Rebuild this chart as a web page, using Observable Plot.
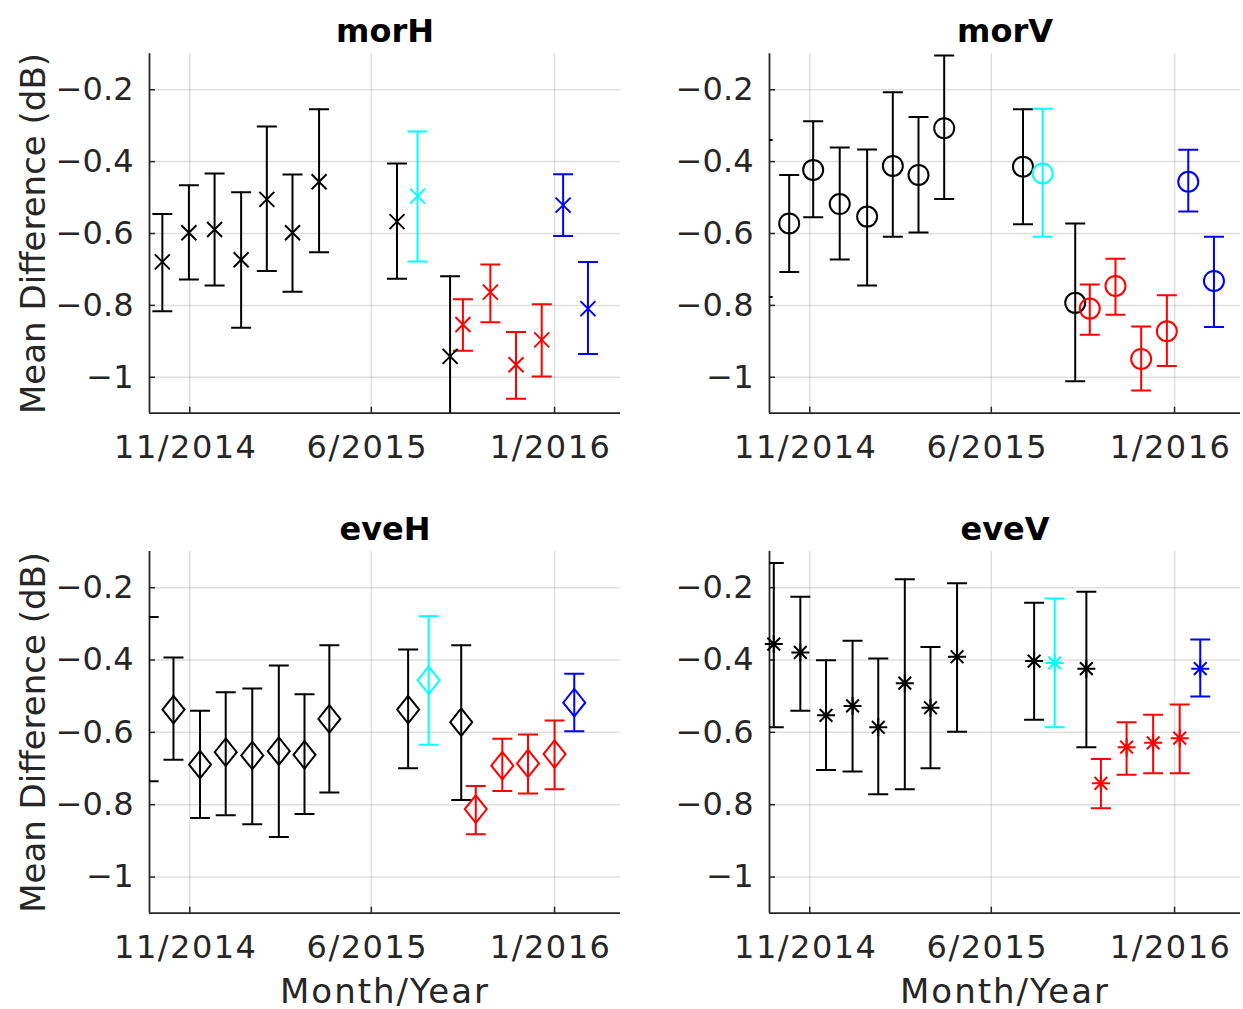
<!DOCTYPE html>
<html>
<head>
<meta charset="utf-8">
<script src="https://cdn.jsdelivr.net/npm/d3@7"></script>
<script src="https://cdn.jsdelivr.net/npm/@observablehq/plot@0.6"></script>
<style>
  html, body { margin: 0; padding: 0; background: #fff; }
  #root { position: relative; width: 1243px; height: 1009px; background: #fff; overflow: hidden; }
  #root svg { position: absolute; }
</style>
</head>
<body>
<div id="root"></div>
<script>
// ---------- shared axis data ----------
const X_DOMAIN = ["2014-09-15", "2016-03-18"];
const X_TICKS = ["2014-11-01", "2015-06-01", "2016-01-01"];
const Y_DOMAIN = [-1.1, -0.1];
const Y_TICKS = [-1, -0.8, -0.6, -0.4, -0.2];
const Y_LABEL = "Mean Difference (dB)";
const X_LABEL = "Month/Year";
const GROUP_NAMES = ["S1", "S2", "S3", "S4"];

// ---------- morH ----------
const morH_title = "morH";
const morH_dates = ["2014-09-30","2014-10-31","2014-11-30","2014-12-31","2015-01-30","2015-03-01","2015-04-01","2015-07-01","2015-07-25","2015-09-01","2015-09-16","2015-10-18","2015-11-17","2015-12-17","2016-01-11","2016-02-09"];
const morH_mean = [-0.679,-0.598,-0.589,-0.673,-0.505,-0.598,-0.456,-0.567,-0.496,-0.942,-0.853,-0.763,-0.965,-0.896,-0.521,-0.809];
const morH_lo   = [-0.816,-0.728,-0.745,-0.862,-0.704,-0.762,-0.652,-0.726,-0.678,-1.165,-0.926,-0.847,-1.060,-0.998,-0.607,-0.935];
const morH_hi   = [-0.546,-0.466,-0.433,-0.485,-0.302,-0.436,-0.254,-0.405,-0.316,-0.719,-0.783,-0.686,-0.874,-0.797,-0.435,-0.679];
const morH_group = ["S1","S1","S1","S1","S1","S1","S1","S1","S2","S1","S3","S3","S3","S3","S4","S4"];

// ---------- morV ----------
const morV_title = "morV";
const morV_dates = ["2014-09-07","2014-10-08","2014-11-05","2014-12-06","2015-01-07","2015-02-06","2015-03-08","2015-04-07","2015-07-08","2015-07-31","2015-09-07","2015-09-24","2015-10-24","2015-11-23","2015-12-23","2016-01-17","2016-02-16"];
const morV_mean = [-0.558,-0.572,-0.423,-0.518,-0.553,-0.412,-0.437,-0.307,-0.414,-0.433,-0.793,-0.809,-0.746,-0.949,-0.872,-0.456,-0.732];
const morV_lo   = [-0.777,-0.707,-0.555,-0.672,-0.745,-0.609,-0.597,-0.504,-0.574,-0.609,-1.011,-0.882,-0.826,-1.037,-0.969,-0.539,-0.860];
const morV_hi   = [-0.340,-0.437,-0.288,-0.361,-0.366,-0.207,-0.276,-0.105,-0.254,-0.253,-0.572,-0.742,-0.670,-0.859,-0.772,-0.367,-0.609];
const morV_group = ["S1","S1","S1","S1","S1","S1","S1","S1","S1","S2","S1","S3","S3","S3","S3","S4","S4"];

// ---------- eveH ----------
const eveH_title = "eveH";
const eveH_dates = ["2014-09-14","2014-10-13","2014-11-13","2014-12-13","2015-01-13","2015-02-13","2015-03-15","2015-04-13","2015-07-14","2015-08-07","2015-09-14","2015-10-01","2015-11-01","2015-12-01","2016-01-01","2016-01-24"];
const eveH_mean = [-0.507,-0.537,-0.689,-0.655,-0.664,-0.652,-0.662,-0.563,-0.537,-0.456,-0.572,-0.812,-0.692,-0.686,-0.660,-0.518];
const eveH_lo   = [-0.735,-0.676,-0.837,-0.829,-0.854,-0.889,-0.826,-0.766,-0.699,-0.634,-0.787,-0.882,-0.762,-0.769,-0.757,-0.597];
const eveH_hi   = [-0.281,-0.393,-0.540,-0.489,-0.479,-0.415,-0.495,-0.359,-0.371,-0.279,-0.359,-0.748,-0.618,-0.606,-0.567,-0.438];
const eveH_group = ["S1","S1","S1","S1","S1","S1","S1","S1","S1","S2","S1","S3","S3","S3","S3","S4"];

// ---------- eveV ----------
const eveV_title = "eveV";
const eveV_dates = ["2014-09-20","2014-10-21","2014-11-20","2014-12-21","2015-01-20","2015-02-20","2015-03-22","2015-04-22","2015-07-21","2015-08-14","2015-09-20","2015-10-07","2015-11-06","2015-12-07","2016-01-07","2016-01-31"];
const eveV_mean = [-0.356,-0.379,-0.553,-0.527,-0.586,-0.464,-0.532,-0.391,-0.403,-0.408,-0.424,-0.741,-0.641,-0.629,-0.616,-0.424];
const eveV_lo   = [-0.586,-0.540,-0.704,-0.708,-0.771,-0.757,-0.699,-0.598,-0.565,-0.586,-0.641,-0.810,-0.717,-0.713,-0.713,-0.501];
const eveV_hi   = [-0.132,-0.225,-0.401,-0.347,-0.396,-0.177,-0.364,-0.188,-0.242,-0.230,-0.211,-0.674,-0.572,-0.551,-0.523,-0.343];
const eveV_group = ["S1","S1","S1","S1","S1","S1","S1","S1","S1","S2","S1","S3","S3","S3","S3","S4"];

// ---------- styling ----------
const GROUP_COLORS = ["#000000", "#00ffff", "#ff0000", "#0000ff"];
const INK = "#262626";
const FONT = "DejaVu Sans";

const rOf = size => Math.sqrt(size / Math.PI);
const capSymbol = {draw(ctx, size) { const r = rOf(size); ctx.moveTo(-r, 0); ctx.lineTo(r, 0); }};
const timesSymbol = {draw(ctx, size) { const r = rOf(size); ctx.moveTo(-r, -r); ctx.lineTo(r, r); ctx.moveTo(-r, r); ctx.lineTo(r, -r); }};
const diamondSymbol = {draw(ctx, size) { const r = rOf(size), h = r * 1.25; ctx.moveTo(0, -h); ctx.lineTo(r, 0); ctx.lineTo(0, h); ctx.lineTo(-r, 0); ctx.closePath(); }};
const asteriskSymbol = {draw(ctx, size) { const r = rOf(size), d = r * Math.SQRT1_2;
  ctx.moveTo(-r, 0); ctx.lineTo(r, 0); ctx.moveTo(0, -r); ctx.lineTo(0, r);
  ctx.moveTo(-d, -d); ctx.lineTo(d, d); ctx.moveTo(-d, d); ctx.lineTo(d, -d); }};

const parse = d3.utcParse("%Y-%m-%d");
const fmtMonth = d3.utcFormat("%-m/%Y");
const fmtY = d3.format("~g");

function panel(cfg, box) {
  const rows = cfg.dates.map((d, i) => ({date: parse(d), mean: cfg.mean[i], lo: cfg.lo[i], hi: cfg.hi[i], group: cfg.group[i]}));
  const xDom = X_DOMAIN.map(parse);
  const xTicks = X_TICKS.map(parse);
  const marks = [
    Plot.gridX(xTicks, {stroke: INK, strokeOpacity: 0.15, strokeWidth: 1.5}),
    Plot.gridY(Y_TICKS, {stroke: INK, strokeOpacity: 0.15, strokeWidth: 1.5}),
    Plot.ruleX([xDom[0]], {stroke: INK, strokeWidth: 1.8}),
    Plot.ruleY([Y_DOMAIN[0]], {stroke: INK, strokeWidth: 1.8}),
    Plot.axisY(Y_TICKS, {tickSize: -6, tickPadding: 22, tickFormat: fmtY, fontSize: 32, color: INK, strokeWidth: 1.5, label: null}),
    Plot.axisX(xTicks, {tickSize: -6, tickPadding: 28, tickFormat: () => "", fontSize: 32, color: INK, strokeWidth: 1.5, label: null}),
    Plot.text(xTicks, {x: d => d, text: fmtMonth, frameAnchor: "bottom", dy: 22, dx: -4, lineAnchor: "top", textAnchor: "middle", fontSize: 32, fill: INK}),
    Plot.ruleX(rows, {x: "date", y1: "lo", y2: "hi", stroke: "group", strokeWidth: 2, clip: true}),
    Plot.dot(rows, {x: "date", y: "lo", symbol: capSymbol, r: 10, stroke: "group", strokeWidth: 2, fill: "none", clip: true}),
    Plot.dot(rows, {x: "date", y: "hi", symbol: capSymbol, r: 10, stroke: "group", strokeWidth: 2, fill: "none", clip: true}),
    Plot.dot(rows, {filter: d => d.date >= xDom[0], x: "date", y: "mean", symbol: cfg.symbol, r: cfg.r, stroke: "group", strokeWidth: 2, fill: "none"}),
    Plot.text([cfg.title], {frameAnchor: "top", dy: -11.5, lineAnchor: "bottom", textAnchor: "middle", fontSize: 32, fontWeight: "bold", fill: "#000"})
  ];
  if (cfg.yLabel) marks.push(Plot.text([cfg.yLabel], {frameAnchor: "left", dx: -105, rotate: -90, lineAnchor: "bottom", textAnchor: "middle", fontSize: 34, fill: INK}));
  if (cfg.xLabel) marks.push(Plot.text([cfg.xLabel], {frameAnchor: "bottom", dy: 89.3, lineAnchor: "bottom", textAnchor: "middle", fontSize: 34, fill: INK}));
  const svg = Plot.plot({
    width: box.width, height: box.height,
    marginLeft: box.ml, marginRight: box.mr, marginTop: box.mt, marginBottom: box.mb,
    style: {fontFamily: FONT, background: "transparent", overflow: "visible"},
    x: {type: "utc", domain: xDom},
    y: {domain: Y_DOMAIN},
    color: {domain: GROUP_NAMES, range: GROUP_COLORS},
    marks
  });
  svg.style.left = box.left + "px";
  svg.style.top = box.top + "px";
  // wider letter spacing, as in the reference rendering
  const tickStrings = xTicks.map(fmtMonth);
  d3.select(svg).selectAll("text").each(function() {
    const t = this.textContent;
    if (tickStrings.includes(t)) this.style.letterSpacing = "1.5px";
    else if (t === X_LABEL) this.style.letterSpacing = "2px";
  });
  document.getElementById("root").appendChild(svg);
}

panel({title: morH_title, dates: morH_dates, mean: morH_mean, lo: morH_lo, hi: morH_hi, group: morH_group, symbol: timesSymbol, r: 7.5, yLabel: Y_LABEL},
      {left: 0, top: 0, width: 622, height: 498, ml: 149, mr: 2, mt: 53.3, mb: 85.3});
panel({title: morV_title, dates: morV_dates, mean: morV_mean, lo: morV_lo, hi: morV_hi, group: morV_group, symbol: "circle", r: 10},
      {left: 622, top: 0, width: 621, height: 498, ml: 147, mr: 3, mt: 53.3, mb: 85.3});
panel({title: eveH_title, dates: eveH_dates, mean: eveH_mean, lo: eveH_lo, hi: eveH_hi, group: eveH_group, symbol: diamondSymbol, r: 11, yLabel: Y_LABEL, xLabel: X_LABEL},
      {left: 0, top: 498, width: 622, height: 511, ml: 149, mr: 2, mt: 53, mb: 96.3});
panel({title: eveV_title, dates: eveV_dates, mean: eveV_mean, lo: eveV_lo, hi: eveV_hi, group: eveV_group, symbol: asteriskSymbol, r: 9, xLabel: X_LABEL},
      {left: 622, top: 498, width: 621, height: 511, ml: 147, mr: 3, mt: 53, mb: 96.3});
</script>
</body>
</html>
